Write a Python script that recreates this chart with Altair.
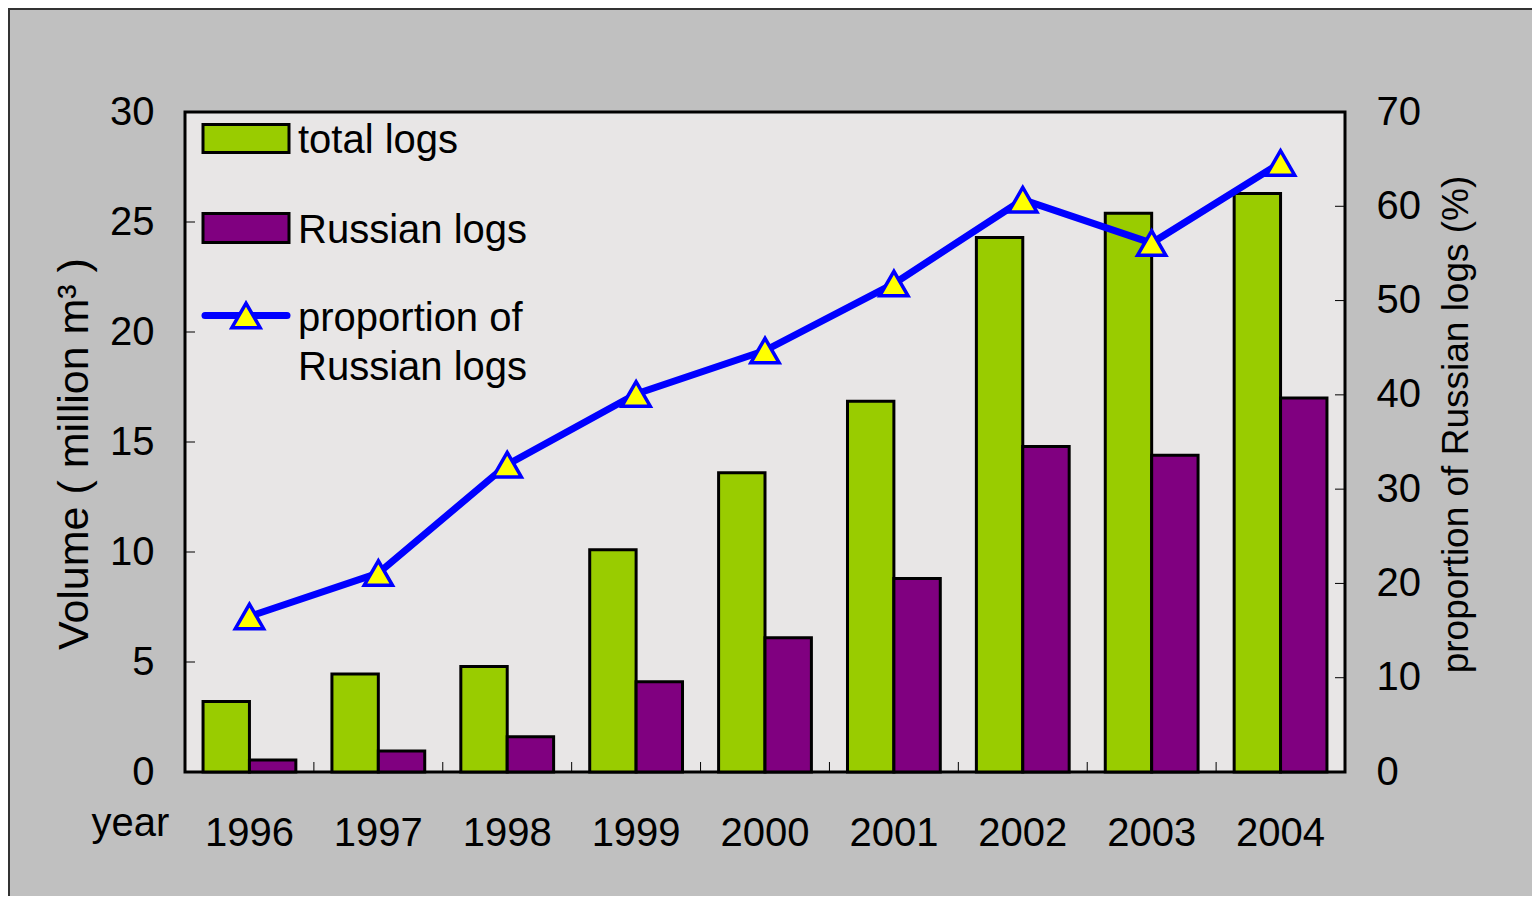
import altair as alt
import pandas as pd

# ---- data ----
years = ["1996", "1997", "1998", "1999", "2000", "2001", "2002", "2003", "2004"]
total_logs = [3.2, 4.45, 4.8, 10.1, 13.6, 16.85, 24.3, 25.4, 26.3]
russian_logs = [0.55, 0.95, 1.6, 4.1, 6.1, 8.8, 14.8, 14.4, 17.0]
proportion = [16.5, 21.1, 32.6, 40.1, 44.7, 51.8, 60.7, 56.1, 64.6]
series_names = ["total logs", "Russian logs"]
line_name = ["proportion of", "Russian logs"]
left_ticks = [0, 5, 10, 15, 20, 25, 30]
right_ticks = [0, 10, 20, 30, 40, 50, 60, 70]

bar_df = pd.DataFrame({
    "year": years * 2,
    "series": [series_names[0]] * len(years) + [series_names[1]] * len(years),
    "value": total_logs + russian_logs,
})
prop_df = pd.DataFrame({"year": years, "proportion": proportion})
left_tick_df = pd.DataFrame({"value": left_ticks})
right_tick_df = pd.DataFrame({"proportion": right_ticks})
xtick_df = pd.DataFrame({"year": years[:-1]})
one = pd.DataFrame({"k": [0]})

W, H = 1160, 660
STEP = W / len(years)
FONT = "Liberation Sans"
FS = 40
GREEN, PURPLE, BLUE, YELLOW = "#99CC00", "#800080", "#0000FF", "#FFFF00"

x_enc = alt.X(
    "year:N",
    sort=years,
    scale=alt.Scale(domain=years, paddingInner=0.28, paddingOuter=0.14),
    axis=alt.Axis(
        orient="bottom", labelAngle=0, ticks=False, domain=False, grid=False,
        labelFontSize=FS, labelPadding=41,
        title="year", titleFontSize=FS, titleFontWeight="normal",
        titleX=-55, titleY=63, titleBaseline="alphabetic", titleAlign="center",
    ),
)

left_axis = alt.Axis(
    orient="left", values=left_ticks, ticks=False, domain=False, grid=False,
    labelFontSize=FS, labelPadding=31,
    title="Volume ( million m³ )", titleFontSize=43, titleFontWeight="normal",
    titleAngle=270, titleX=-98, titleY=341.5, titleBaseline="alphabetic", titleAlign="center",
)
right_axis = alt.Axis(
    orient="right", values=right_ticks, ticks=False, domain=False, grid=False,
    labelFontSize=FS, labelPadding=31,
    title="proportion of Russian logs (%)", titleFontSize=37, titleFontWeight="normal",
    titleAngle=270, titleX=122, titleY=312, titleBaseline="alphabetic", titleAlign="center",
)
left_y = alt.Y("value:Q", scale=alt.Scale(domain=[0, 30], nice=False), axis=left_axis)
right_y = alt.Y("proportion:Q", scale=alt.Scale(domain=[0, 70], nice=False), axis=right_axis)

bars = alt.Chart(bar_df).mark_bar(stroke="black", strokeWidth=3).encode(
    x=x_enc,
    xOffset=alt.XOffset("series:N", sort=series_names,
                        scale=alt.Scale(domain=series_names, paddingInner=0, paddingOuter=0)),
    y=left_y,
    color=alt.Color("series:N", scale=alt.Scale(domain=series_names, range=[GREEN, PURPLE]), legend=None),
)

left_ticks_layer = alt.Chart(left_tick_df).mark_rule(color="black", strokeWidth=1).encode(
    y=left_y, x=alt.value(0), x2=alt.value(10),
)

line = alt.Chart(prop_df).mark_line(color=BLUE, strokeWidth=7).encode(
    x=x_enc, y=right_y,
)
points = alt.Chart(prop_df).mark_point(
    shape="triangle-up", filled=True, fill=YELLOW, stroke=BLUE, strokeWidth=3.5, size=800, opacity=1
).encode(
    x=x_enc, y=right_y,
)
right_ticks_layer = alt.Chart(right_tick_df).mark_rule(color="black", strokeWidth=1).encode(
    y=right_y, x=alt.value(W - 10), x2=alt.value(W),
)

xticks = alt.Chart(xtick_df).mark_rule(color="black", strokeWidth=1, xOffset=STEP / 2).encode(
    x=x_enc, y=alt.value(H - 10), y2=alt.value(H),
)

# ---- legend (inside plot, top-left) ----
leg_rect1 = alt.Chart(one).mark_rect(fill=GREEN, stroke="black", strokeWidth=3).encode(
    x=alt.value(18), x2=alt.value(104), y=alt.value(12.5), y2=alt.value(40.5))
leg_rect2 = alt.Chart(one).mark_rect(fill=PURPLE, stroke="black", strokeWidth=3).encode(
    x=alt.value(18), x2=alt.value(104), y=alt.value(101.5), y2=alt.value(130.5))
leg_line = alt.Chart(one).mark_rule(color=BLUE, strokeWidth=7, strokeCap="round").encode(
    x=alt.value(20), x2=alt.value(102), y=alt.value(203.5))
leg_tri = alt.Chart(one).mark_point(
    shape="triangle-up", filled=True, fill=YELLOW, stroke=BLUE, strokeWidth=3.5, size=800, opacity=1
).encode(x=alt.value(61), y=alt.value(203.5))
txt = dict(align="left", baseline="alphabetic", fontSize=FS, font=FONT, color="black")
leg_t1 = alt.Chart(one).mark_text(**txt).encode(
    x=alt.value(113), y=alt.value(40.5), text=alt.value(series_names[0]))
leg_t2 = alt.Chart(one).mark_text(**txt).encode(
    x=alt.value(113), y=alt.value(130.5), text=alt.value(series_names[1]))
leg_t3 = alt.Chart(one).mark_text(lineBreak="\n", lineHeight=49, **txt).encode(
    x=alt.value(113), y=alt.value(218.5), text=alt.value("\n".join(line_name)))

border = alt.Chart(one).mark_rect(fillOpacity=0, stroke="#333333", strokeWidth=2).encode(
    x=alt.value(-176), x2=alt.value(W + 200), y=alt.value(-103), y2=alt.value(H + 200))

left_layer = alt.layer(bars, left_ticks_layer)
right_layer = alt.layer(line, points, right_ticks_layer)

chart = alt.layer(
    border, left_layer, right_layer, xticks,
    leg_rect1, leg_rect2, leg_line, leg_tri, leg_t1, leg_t2, leg_t3,
).resolve_scale(
    y="independent"
).properties(
    width=W, height=H,
    background="#C0C0C0",
    padding={"left": 177, "top": 104, "right": 187, "bottom": 124},
    autosize=alt.AutoSizeParams(type="none"),
).configure_view(
    fill="#E8E6E6", stroke="black", strokeWidth=3,
).configure_axis(
    labelFont=FONT, titleFont=FONT, labelColor="black", titleColor="black",
)

chart.save("out.html", embed_options={"renderer": "svg", "actions": False})
